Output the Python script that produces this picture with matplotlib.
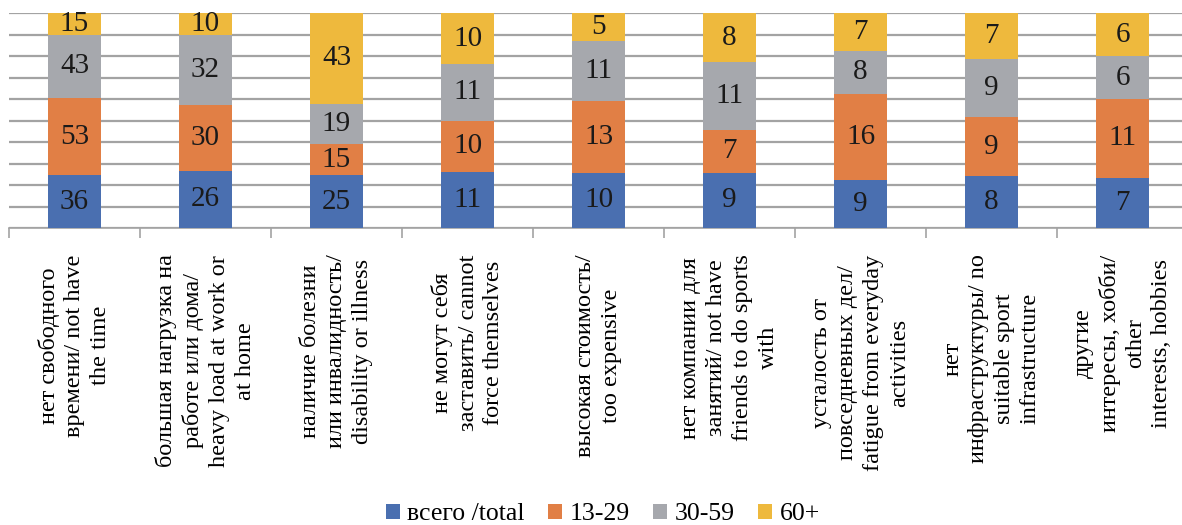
import numpy as np
import matplotlib
matplotlib.use("Agg")
import matplotlib.pyplot as plt

plt.rcParams['font.family'] = ['Liberation Serif', 'DejaVu Serif']

# reasons for not doing sport, by age group (shares inside each bar)
categories = [
    "нет свободного\nвремени/ not have\nthe time",
    "большая нагрузка на\nработе или дома/\nheavy load at work or\nat home",
    "наличие болезни\nили инвалидность/\ndisability or illness",
    "не могут себя\nзаставить/ cannot\nforce themselves",
    "высокая стоимость/\ntoo expensive",
    "нет компании для\nзанятий/ not have\nfriends to do sports\nwith",
    "усталость от\nповседневных дел/\nfatigue from everyday\nactivities",
    "нет\nинфраструктуры/ no\nsuitable sport\ninfrastructure",
    "другие\nинтересы, хобби/\nother\ninterests, hobbies",
]
total = [36, 26, 25, 11, 10, 9, 9, 8, 7]
age_13_29 = [53, 30, 15, 10, 13, 7, 16, 9, 11]
age_30_59 = [43, 32, 19, 11, 11, 11, 8, 9, 6]
age_60 = [15, 10, 43, 10, 5, 8, 7, 7, 6]

series = [total, age_13_29, age_30_59, age_60]
names = ["всего /total", "13-29", "30-59", "60+"]
colors = ["#4A6FB0", "#E17F45", "#A6A8AD", "#EEB93D"]

data = np.array(series, dtype=float)
shares = data / data.sum(axis=0)

fig = plt.figure(figsize=(11.82, 5.25), dpi=100)
ax = fig.add_axes([0.0076, 0.5657, 0.9975, 0.4095])

x = np.arange(len(categories))
bottom = np.zeros(len(categories))
for vals, share, name, col in zip(series, shares, names, colors):
    bars = ax.bar(x, share, 0.4, bottom=bottom, color=col, label=name, zorder=3)
    ax.bar_label(bars, labels=[str(v) for v in vals], label_type='center',
                 fontsize=21, color='#1a1a1a')
    bottom += share

ax.set_xlim(-0.5, len(categories) - 0.5)
ax.set_ylim(0, 1)
ax.set_yticks(np.arange(0, 1.01, 0.1))
ax.yaxis.grid(True, color='#A3A3A3', linewidth=1.6, zorder=0)
ax.tick_params(axis='y', left=False, labelleft=False)

ax.set_xticks(x)
ax.set_xticklabels(categories, rotation=90, fontsize=17.5, va='top', ha='center',
                   multialignment='center', linespacing=1.3)
ax.set_xticks(np.arange(-0.5, len(categories)), minor=True)
ax.tick_params(axis='x', which='major', length=0, pad=19)
ax.tick_params(axis='x', which='minor', length=7, width=1.2, color='#A3A3A3', direction='out')

for side in ['top', 'right', 'left']:
    ax.spines[side].set_visible(False)
ax.spines['bottom'].set_color('#A3A3A3')
ax.spines['bottom'].set_linewidth(1.2)

fig.legend(loc='lower center', bbox_to_anchor=(0.51, -0.045), ncol=4, frameon=False,
           fontsize=18.5, handlelength=0.55, handleheight=0.55, handletextpad=0.3,
           columnspacing=0.9)

fig.savefig("out.png", dpi=100)
